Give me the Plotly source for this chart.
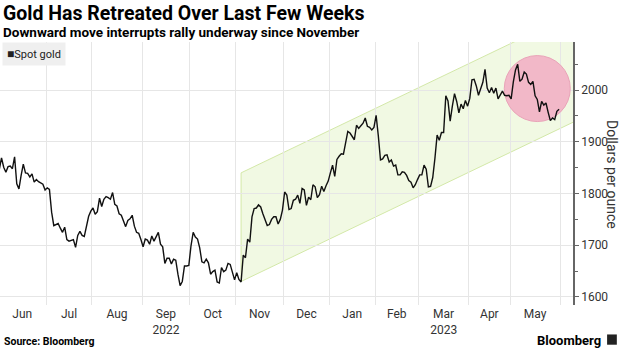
import numpy as np
import pandas as pd
import plotly.graph_objects as go

# ---------------- data (spot gold, USD per ounce, daily) ----------------
start_date = "2022-06-01"
end_date = "2023-05-31"
holidays = ["2022-12-26", "2023-01-02", "2023-04-07"]

gold_2022_06 = [1847, 1869, 1851, 1841, 1852, 1853, 1848, 1871, 1819, 1809, 1835,
                1857, 1840, 1839, 1832, 1838, 1822, 1827, 1823, 1820, 1818, 1807]
gold_2022_07 = [1811, 1808, 1764, 1738, 1740, 1742, 1733, 1725, 1735, 1711, 1708,
                1709, 1711, 1696, 1719, 1727, 1719, 1717, 1734, 1756, 1766]
gold_2022_08 = [1772, 1760, 1765, 1791, 1775, 1789, 1794, 1792, 1789, 1802, 1779,
                1776, 1761, 1758, 1747, 1736, 1748, 1751, 1758, 1737, 1725, 1723, 1711]
gold_2022_09 = [1697, 1712, 1710, 1702, 1718, 1708, 1717, 1725, 1702, 1697, 1665,
                1675, 1675, 1664, 1673, 1671, 1644, 1622, 1630, 1660, 1660, 1661]
gold_2022_10 = [1699, 1725, 1716, 1712, 1695, 1668, 1666, 1673, 1666, 1644, 1649,
                1652, 1629, 1627, 1657, 1649, 1652, 1665, 1663, 1645, 1633]
gold_2022_11 = [1647, 1634, 1629, 1681, 1676, 1712, 1706, 1755, 1771, 1772, 1778,
                1774, 1761, 1751, 1738, 1740, 1750, 1755, 1755, 1741, 1750, 1768]
gold_2022_12 = [1803, 1797, 1769, 1771, 1787, 1789, 1797, 1781, 1810, 1807, 1777,
                1793, 1788, 1817, 1813, 1792, 1798, 1814, 1804, 1815, 1824]
gold_2023_01 = [1840, 1855, 1833, 1866, 1872, 1877, 1876, 1898, 1920, 1917, 1909,
                1904, 1932, 1926, 1931, 1936, 1946, 1930, 1928, 1923, 1928]
gold_2023_02 = [1951, 1912, 1865, 1867, 1874, 1875, 1861, 1865, 1853, 1855, 1836,
                1836, 1842, 1841, 1835, 1825, 1822, 1811, 1817, 1827]
gold_2023_03 = [1836, 1836, 1855, 1847, 1813, 1814, 1831, 1868, 1913, 1903, 1918,
                1918, 1989, 1979, 1940, 1969, 1993, 1978, 1956, 1973, 1964, 1980, 1969]
gold_2023_04 = [1984, 2020, 2021, 2008, 1990, 2004, 2015, 2040, 2004, 1995, 2005,
                1994, 2004, 1983, 1990, 1998, 1990, 1989, 1990]
gold_2023_05 = [1983, 2016, 2039, 2050, 2017, 2021, 2035, 2031, 2015, 2011, 2017,
                1989, 1982, 1958, 1978, 1971, 1975, 1957, 1941, 1946, 1943, 1959, 1963]

month_labels = ["Jun", "Jul", "Aug", "Sep<br>2022", "Oct", "Nov", "Dec",
                "Jan", "Feb", "Mar<br>2023", "Apr", "May"]
month_starts = pd.date_range("2022-06-01", "2023-06-01", freq="MS")

y_ticks = [1600, 1700, 1800, 1900, 2000]

# rising channel (start/end dates with lower and upper bounds)
channel_dates = ["2022-11-03", "2023-06-09"]
channel_low = [1630, 1939]
channel_high = [1840, 2149]

# highlight circle around the recent pullback
circle_date = "2023-05-17"
circle_value = 2003

# ---------------- build ----------------
values = (gold_2022_06 + gold_2022_07 + gold_2022_08 + gold_2022_09 + gold_2022_10 +
          gold_2022_11 + gold_2022_12 + gold_2023_01 + gold_2023_02 + gold_2023_03 +
          gold_2023_04 + gold_2023_05)
dates = pd.bdate_range(start_date, end_date, freq="C", holidays=holidays)
assert len(dates) == len(values), (len(dates), len(values))


def tday(d):
    """trading-day index of a date relative to start_date"""
    return int(np.busday_count(np.datetime64(start_date), np.datetime64(pd.Timestamp(d).date()),
                               holidays=holidays))


x_idx = [tday(d) for d in dates]
bounds = [tday(m) - 0.5 for m in month_starts]
label_pos = [(a + b) / 2 for a, b in zip(bounds[:-1], bounds[1:])]

fig = go.Figure()
fig.add_trace(go.Scatter(
    x=x_idx, y=values, mode="lines", name="Spot gold",
    line=dict(color="#111111", width=1.4), showlegend=False, hoverinfo="skip"))

cx0, cx1 = tday(channel_dates[0]), tday(channel_dates[1])
channel_path = (f"M {cx0},{channel_low[0]} L {cx1},{channel_low[1]} "
                f"L {cx1},{channel_high[1]} L {cx0},{channel_high[0]} Z")

shapes = [
    dict(type="path", xref="x", yref="y", path=channel_path,
         fillcolor="#f1f9e3", line=dict(color="#d3e8a8", width=1), layer="below"),
    dict(type="circle", xref="x", yref="y",
         xsizemode="pixel", ysizemode="pixel",
         xanchor=tday(circle_date), yanchor=circle_value,
         x0=-33, x1=33, y0=-33, y1=33,
         fillcolor="#f2b8c8", line=dict(color="#e9a3b8", width=1), layer="between"),
    # Bloomberg logo glyph
    dict(type="rect", xref="paper", yref="paper",
         x0=1.0595, x1=1.0765, y0=-0.151, y1=-0.112,
         fillcolor="#222222", line=dict(width=0)),
]

FONT = "Roboto"
annotations = [
    dict(text="<b>Gold Has Retreated Over Last Few Weeks</b>", xref="paper", yref="paper",
         x=0, y=(305 - 13.5) / 263, xanchor="left", yanchor="middle", xshift=1,
         showarrow=False, font=dict(family=FONT, size=19.5, color="#000000")),
    dict(text="<b>Downward move interrupts rally underway since November</b>",
         xref="paper", yref="paper", x=0, y=(305 - 31.5) / 263, xanchor="left",
         yanchor="middle", xshift=1, showarrow=False,
         font=dict(family=FONT, size=13.5, color="#000000")),
    dict(text="<span style='font-size:12px'>■</span>Spot gold", xref="paper", yref="paper",
         x=0, y=1, xanchor="left", yanchor="top", xshift=2, showarrow=False,
         bgcolor="#efefef", borderpad=4,
         font=dict(family=FONT, size=11, color="#222222")),
    dict(text="Dollars per ounce", xref="paper", yref="paper",
         x=612 / 573, y=(305 - 174) / 263, xanchor="center", yanchor="middle",
         textangle=90, showarrow=False, font=dict(family=FONT, size=14, color="#333333")),
    dict(text="<b>Source: Bloomberg</b>", xref="paper", yref="paper",
         x=0, y=(305 - 341) / 263, xanchor="left", yanchor="middle", xshift=2,
         showarrow=False, font=dict(family=FONT, size=10.5, color="#000000")),
    dict(text="<b>Bloomberg</b>", xref="paper", yref="paper",
         x=603 / 573, y=(305 - 340) / 263, xanchor="right", yanchor="middle",
         showarrow=False, font=dict(family=FONT, size=13, color="#000000")),
]

fig.update_layout(
    width=620, height=348,
    margin=dict(l=0, r=47, t=42, b=43),
    paper_bgcolor="white", plot_bgcolor="white",
    shapes=shapes, annotations=annotations,
    showlegend=False,
    xaxis=dict(
        range=[0.3, 263.4], tickmode="array", tickvals=label_pos, ticktext=month_labels,
        showgrid=False, zeroline=False, showline=False, ticks="",
        tickfont=dict(family=FONT, size=12, color="#333333"),
        minor=dict(tickmode="array", tickvals=bounds, showgrid=True,
                   gridcolor="#e6e6e6", gridwidth=1, ticks=""),
    ),
    yaxis=dict(
        side="right", range=[1584.5, 2093], tickmode="array", tickvals=y_ticks,
        showgrid=True, gridcolor="#e6e6e6", gridwidth=1, zeroline=False,
        showline=True, linecolor="#666666", linewidth=1.5,
        ticks="outside", ticklen=4, tickcolor="#666666", tickwidth=1,
        tickfont=dict(family=FONT, size=12, color="#333333"),
        minor=dict(dtick=50, tick0=1550, ticks="outside", ticklen=3,
                   tickcolor="#666666", showgrid=False),
    ),
)

fig.write_html("out.html")
